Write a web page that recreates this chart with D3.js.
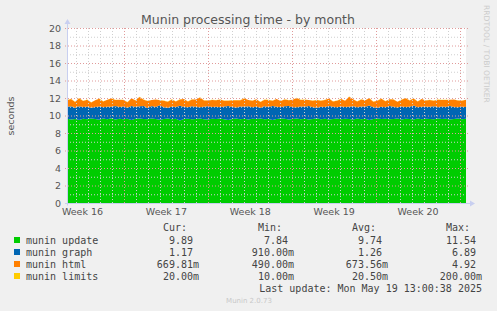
<!DOCTYPE html>
<html>
<head>
<meta charset="utf-8">
<script src="https://cdn.jsdelivr.net/npm/d3@7"></script>
<style>
  body { margin: 0; background: #f0f0f0; }
  svg { display: block; }
  text { font-family: "DejaVu Sans", sans-serif; }
  .mono { font-family: "DejaVu Sans Mono", monospace; white-space: pre; }
</style>
</head>
<body>
<div id="svg-container"></div>
<script>
////////////////////////////////////////////////////////////////////
////////////////////////////  Data  ////////////////////////////////
const startTime = "2025-04-16T06:00:00Z";
const endTime = "2025-05-19T13:00:00Z";

const munin_update = [
  9.62, 9.55, 9.60, 9.48, 9.64, 9.57, 9.66, 9.59, 9.52, 9.65,
  9.58, 9.68, 9.54, 9.62, 9.57, 9.64, 9.50, 9.63, 9.67, 9.59,
  9.56, 9.65, 9.61, 9.52, 9.60, 9.66, 9.57, 9.63, 9.44, 9.59,
  9.64, 9.56, 9.61, 9.67, 9.58, 9.53, 9.63, 9.60, 9.65, 9.57,
  9.50, 9.61, 9.66, 9.58, 9.63, 9.55, 9.64, 9.60, 9.67, 9.57,
  9.61, 9.48, 9.59, 9.65, 9.62, 9.55, 9.60, 9.66, 9.58, 9.64,
  9.55, 9.61, 9.68, 9.58, 9.63, 9.53, 9.60, 9.65, 9.57, 9.64,
  9.61, 9.55, 9.66, 9.58, 9.63, 9.50, 9.60, 9.65, 9.59, 9.64,
  9.57, 9.61, 9.67, 9.55, 9.63, 9.60, 9.53, 9.65, 9.58, 9.64,
  9.61, 9.56, 9.66, 9.59, 9.63, 9.55, 9.60, 9.65, 9.58, 9.62
];
const munin_graph = [
  1.38, 1.50, 1.30, 1.58, 1.33, 1.44, 1.24, 1.37, 1.52, 1.28,
  1.42, 1.31, 1.55, 1.35, 1.47, 1.26, 1.60, 1.34, 1.40, 1.51,
  1.30, 1.45, 1.36, 1.64, 1.33, 1.22, 1.43, 1.35, 1.68, 1.39,
  1.29, 1.49, 1.37, 1.27, 1.42, 1.54, 1.33, 1.40, 1.30, 1.47,
  1.58, 1.35, 1.25, 1.44, 1.37, 1.52, 1.29, 1.39, 1.23, 1.48,
  1.35, 1.62, 1.40, 1.30, 1.43, 1.53, 1.34, 1.27, 1.46, 1.37,
  1.55, 1.32, 1.22, 1.42, 1.35, 1.57, 1.39, 1.29, 1.47, 1.33,
  1.40, 1.52, 1.27, 1.44, 1.37, 1.63, 1.35, 1.25, 1.42, 1.31,
  1.53, 1.39, 1.24, 1.47, 1.33, 1.40, 1.60, 1.29, 1.43, 1.35,
  1.38, 1.50, 1.27, 1.44, 1.33, 1.55, 1.37, 1.30, 1.42, 1.36
];
const munin_html = [
  0.74, 0.84, 0.65, 0.92, 0.70, 0.80, 0.60, 0.77, 0.88, 0.67,
  0.79, 0.96, 0.68, 0.82, 0.73, 0.62, 0.86, 0.75, 1.05, 0.71,
  0.80, 0.66, 0.85, 0.58, 0.76, 0.69, 0.83, 0.63, 0.72, 0.90,
  0.68, 0.78, 0.84, 1.12, 0.71, 0.64, 0.81, 0.74, 0.87, 0.66,
  0.61, 0.79, 0.83, 0.72, 0.95, 0.69, 0.77, 0.86, 0.64, 0.75,
  0.81, 0.60, 0.89, 0.70, 0.79, 0.67, 0.85, 1.08, 0.73, 0.80,
  0.66, 0.77, 0.88, 0.69, 0.80, 0.83, 0.62, 0.75, 0.86, 0.71,
  1.14, 0.78, 0.67, 0.82, 0.73, 0.85, 0.63, 0.79, 0.90, 0.69,
  0.75, 0.83, 0.65, 0.78, 1.02, 0.71, 0.81, 0.67, 0.87, 0.73,
  0.79, 0.64, 0.88, 0.74, 0.82, 0.69, 0.85, 0.77, 0.70, 0.81
];
const munin_limits = [
  0.02, 0.02, 0.02, 0.02, 0.02, 0.02, 0.02, 0.02, 0.02, 0.02,
  0.02, 0.02, 0.03, 0.02, 0.02, 0.02, 0.02, 0.02, 0.02, 0.02,
  0.02, 0.02, 0.02, 0.02, 0.02, 0.02, 0.02, 0.02, 0.02, 0.02,
  0.02, 0.02, 0.02, 0.02, 0.02, 0.03, 0.02, 0.02, 0.02, 0.02,
  0.02, 0.02, 0.02, 0.02, 0.02, 0.02, 0.02, 0.02, 0.02, 0.02,
  0.02, 0.02, 0.02, 0.02, 0.02, 0.02, 0.02, 0.02, 0.02, 0.03,
  0.02, 0.02, 0.02, 0.02, 0.02, 0.02, 0.02, 0.02, 0.02, 0.02,
  0.02, 0.02, 0.02, 0.02, 0.02, 0.02, 0.02, 0.02, 0.02, 0.02,
  0.02, 0.02, 0.02, 0.02, 0.03, 0.02, 0.02, 0.02, 0.02, 0.02,
  0.02, 0.02, 0.02, 0.02, 0.02, 0.02, 0.02, 0.02, 0.02, 0.02
];

const seriesNames = ["munin update", "munin graph", "munin html", "munin limits"];
const seriesColors = ["#00cc00", "#0066b3", "#ff8000", "#ffcc00"];
const legendCur = ["9.89", "1.17", "669.81m", "20.00m"];
const legendMin = ["7.84", "910.00m", "490.00m", "10.00m"];
const legendAvg = ["9.74", "1.26", "673.56m", "20.50m"];
const legendMax = ["11.54", "6.89", "4.92", "200.00m"];
const yTicks = [0, 2, 4, 6, 8, 10, 12, 14, 16, 18, 20];

////////////////////////////////////////////////////////////////////
////////////////////////////  Init  ////////////////////////////////
const width = 497;
const height = 311;
const margin = { top: 28, right: 31, bottom: 108, left: 67 };

const svg = d3.select("#svg-container").append("svg")
  .attr("width", width)
  .attr("height", height);

svg.append("rect").attr("width", width).attr("height", height).attr("fill", "#f0f0f0");

const t0 = new Date(startTime);
const t1 = new Date(endTime);

const xScale = d3.scaleUtc().domain([t0, t1]).range([margin.left, width - margin.right]);
const yScale = d3.scaleLinear().domain([0, 20]).range([height - margin.bottom, margin.top]);

// plot background
svg.append("rect")
  .attr("x", margin.left)
  .attr("y", margin.top)
  .attr("width", width - margin.right - margin.left)
  .attr("height", height - margin.bottom - margin.top)
  .attr("fill", "#ffffff");

// build stacked table
const n = munin_update.length;
const step = (t1 - t0) / (n - 1);
const table = munin_update.map((d, i) => ({
  date: new Date(+t0 + i * step),
  "munin update": d,
  "munin graph": munin_graph[i],
  "munin html": munin_html[i],
  "munin limits": munin_limits[i]
}));
const stacked = d3.stack().keys(seriesNames)(table);

const area = d3.area()
  .x((d) => xScale(d.data.date))
  .y0((d) => yScale(d[0]))
  .y1((d) => yScale(d[1]));

svg.append("g").selectAll("path")
  .data(stacked)
  .join("path")
  .attr("fill", (d, i) => seriesColors[i])
  .attr("d", area);

// grid
const grid = svg.append("g");
const yMinor = d3.range(1, 20, 2);
grid.selectAll(".hminor").data(yMinor).join("line")
  .attr("x1", margin.left).attr("x2", width - margin.right)
  .attr("y1", (d) => yScale(d) + 0.5).attr("y2", (d) => yScale(d) + 0.5)
  .attr("stroke", "#cfcfcf").attr("stroke-dasharray", "1,2");
grid.selectAll(".hmajor").data(yTicks.slice(1)).join("line")
  .attr("x1", margin.left - 2).attr("x2", width - margin.right + 2)
  .attr("y1", (d) => yScale(d) + 0.5).attr("y2", (d) => yScale(d) + 0.5)
  .attr("stroke", "#e09a9a").attr("stroke-dasharray", "1,2");

const days = d3.utcDay.range(d3.utcDay.ceil(t0), t1).filter((d) => d.getUTCDay() !== 1);
grid.selectAll(".vminor").data(days).join("line")
  .attr("x1", (d) => Math.round(xScale(d)) + 0.5).attr("x2", (d) => Math.round(xScale(d)) + 0.5)
  .attr("y1", margin.top).attr("y2", height - margin.bottom + 2)
  .attr("stroke", "#cfcfcf").attr("stroke-dasharray", "1,2");
const mondays = d3.utcMonday.range(t0, t1);
grid.selectAll(".vmajor").data(mondays).join("line")
  .attr("x1", (d) => Math.round(xScale(d)) + 0.5).attr("x2", (d) => Math.round(xScale(d)) + 0.5)
  .attr("y1", margin.top).attr("y2", height - margin.bottom + 2)
  .attr("stroke", "#e09a9a").attr("stroke-dasharray", "1,2");

// axes lines + arrows
const axisCol = "#c8cff0";
const y0 = yScale(0) + 0.5;
svg.append("line").attr("x1", margin.left - 2).attr("x2", width - margin.right + 4)
  .attr("y1", y0).attr("y2", y0).attr("stroke", axisCol);
svg.append("line").attr("x1", margin.left + 0.5).attr("x2", margin.left + 0.5)
  .attr("y1", y0 + 2).attr("y2", margin.top - 4).attr("stroke", axisCol);
const xe = width - margin.right + 4;
svg.append("path").attr("d", `M${xe},${y0 - 3}L${xe + 5},${y0}L${xe},${y0 + 3}Z`).attr("fill", axisCol);
const ye = margin.top - 4;
svg.append("path").attr("d", `M${margin.left - 2.5},${ye}L${margin.left + 0.5},${ye - 5}L${margin.left + 3.5},${ye}Z`).attr("fill", axisCol);

// y axis labels
const yAxis = d3.axisLeft(yScale).tickValues(yTicks).tickSize(0).tickPadding(6);
svg.append("g")
  .attr("class", "y-axis")
  .attr("transform", `translate(${margin.left},0)`)
  .call(yAxis)
  .call((g) => g.select(".domain").remove())
  .call((g) => g.selectAll("text")
    .attr("font-family", "DejaVu Sans").attr("font-size", 9.5).attr("fill", "#555"));

// x axis week labels, centred in week
const weekStarts = d3.utcMonday.range(d3.utcMonday.floor(t0), t1)
  .filter((d) => +d3.utcHour.offset(d, 84) >= +t0 && +d3.utcHour.offset(d, 84) <= +t1);
const formatWeek = d3.utcFormat("Week %V");
const xAxis = d3.axisBottom(xScale)
  .tickValues(weekStarts.map((d) => d3.utcHour.offset(d, 84)))
  .tickFormat((d) => formatWeek(d))
  .tickSize(0).tickPadding(5);
svg.append("g")
  .attr("class", "x-axis")
  .attr("transform", `translate(0,${yScale(0)})`)
  .call(xAxis)
  .call((g) => g.select(".domain").remove())
  .call((g) => g.selectAll("text")
    .attr("font-family", "DejaVu Sans").attr("font-size", 9.5).attr("fill", "#555"));

// title & labels
svg.append("text").attr("x", 248).attr("y", 24).attr("text-anchor", "middle")
  .attr("font-size", 12.5).attr("fill", "#555").text("Munin processing time - by month");
svg.append("text").attr("transform", "translate(14,116) rotate(-90)").attr("text-anchor", "middle")
  .attr("font-size", 9.5).attr("fill", "#555").text("seconds");
svg.append("text").attr("transform", "translate(484,5) rotate(90)").attr("text-anchor", "start")
  .attr("font-size", 7.6).attr("fill", "#cccccc").text("RRDTOOL / TOBI OETIKER");

// legend
const legend = svg.append("g").attr("class", "mono").attr("font-size", 10).attr("fill", "#444");
const rowY = (i) => 244 + i * 12;
const cols = [
  { head: "Cur:", vals: legendCur, end: 199 },
  { head: "Min:", vals: legendMin, end: 294 },
  { head: "Avg:", vals: legendAvg, end: 388 },
  { head: "Max:", vals: legendMax, end: 482 }
];
cols.forEach((c) => {
  legend.append("text").attr("class", "mono").attr("x", c.end - 12).attr("y", 231)
    .attr("text-anchor", "end").text(c.head);
  legend.selectAll(null).data(c.vals).join("text")
    .attr("class", "mono")
    .attr("x", c.end).attr("y", (d, i) => rowY(i)).attr("text-anchor", "end")
    .text((d) => (d.endsWith("m") ? d : d + " "));
});
legend.selectAll(".sw").data(seriesNames).join("rect")
  .attr("x", 14).attr("y", (d, i) => rowY(i) - 7).attr("width", 6).attr("height", 6)
  .attr("fill", (d, i) => seriesColors[i]);
legend.selectAll(".nm").data(seriesNames).join("text")
  .attr("class", "mono")
  .attr("x", 26).attr("y", (d, i) => rowY(i)).text((d) => d);
legend.append("text").attr("class", "mono").attr("x", 482).attr("y", 292).attr("text-anchor", "end")
  .text("Last update: Mon May 19 13:00:38 2025");

svg.append("text").attr("x", 249).attr("y", 303).attr("text-anchor", "middle")
  .attr("font-size", 7).attr("fill", "#c8c8c8").text("Munin 2.0.73");
</script>
</body>
</html>
